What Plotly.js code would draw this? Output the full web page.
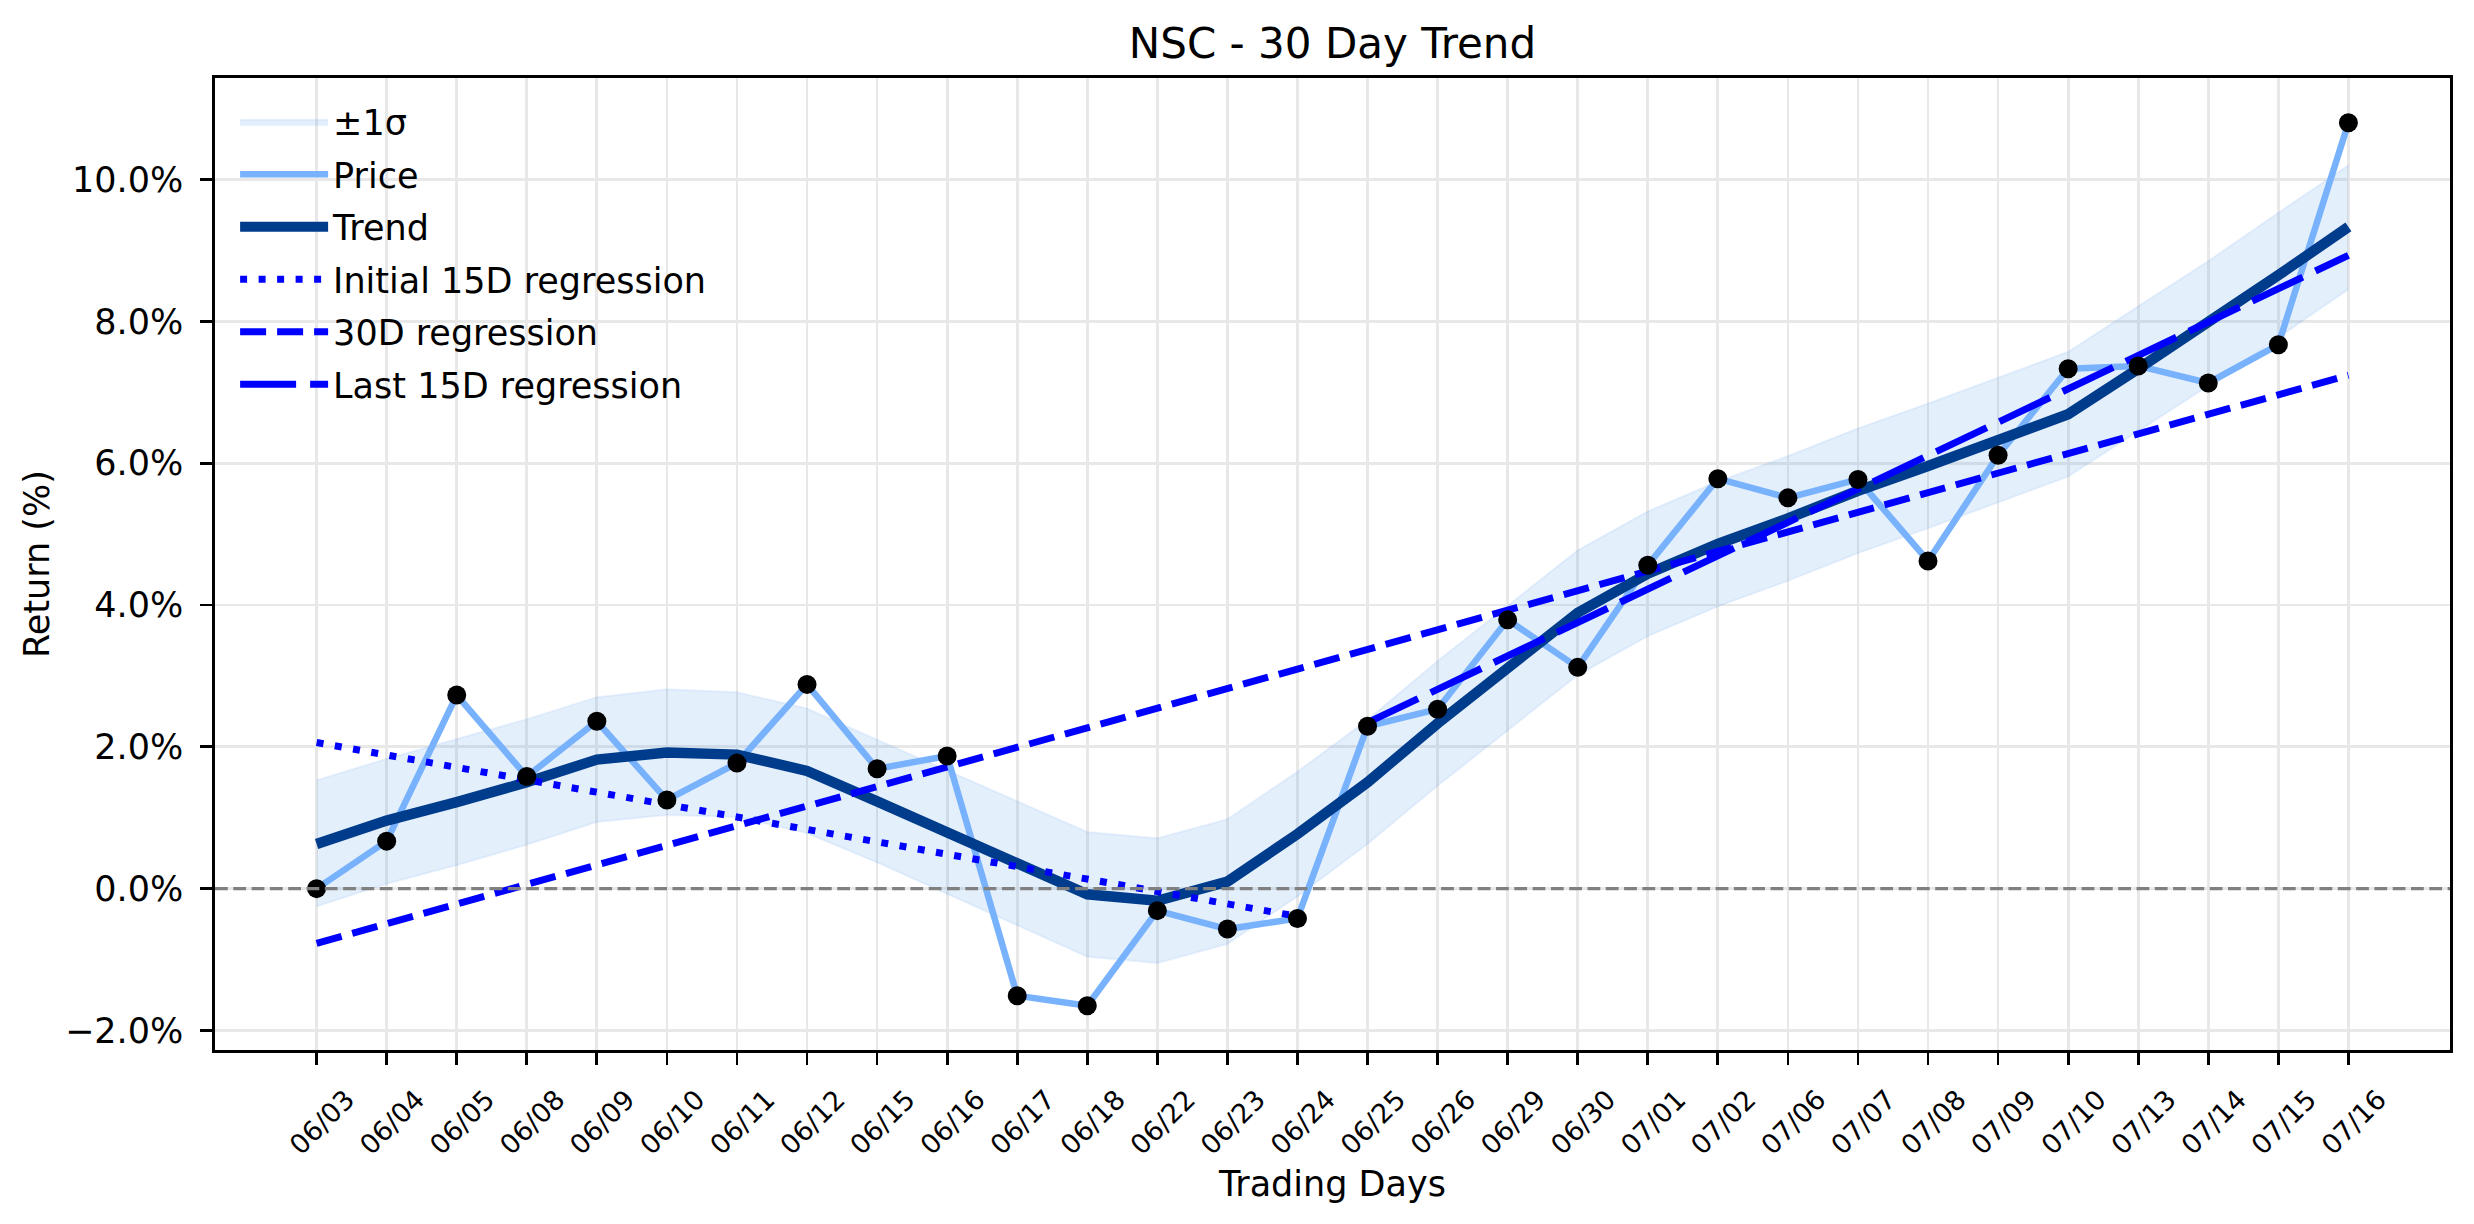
<!DOCTYPE html>
<html>
<head>
<meta charset="utf-8">
<script src="https://cdn.plot.ly/plotly-3.0.1.min.js"></script>
<style>
  html, body { margin: 0; padding: 0; background: #ffffff; }
  #chart { width: 2474px; height: 1224px; }
</style>
</head>
<body>
<div id="chart"></div>
<script>
// ---- data ----
const dates = ['06/03','06/04','06/05','06/08','06/09','06/10','06/11','06/12','06/15','06/16',
               '06/17','06/18','06/22','06/23','06/24','06/25','06/26','06/29','06/30','07/01',
               '07/02','07/06','07/07','07/08','07/09','07/10','07/13','07/14','07/15','07/16'];

const priceReturn = [0.00, 0.67, 2.73, 1.58, 2.36, 1.25, 1.77, 2.88, 1.69, 1.87,
                     -1.51, -1.65, -0.31, -0.57, -0.42, 2.29, 2.53, 3.79, 3.12, 4.56,
                     5.78, 5.51, 5.77, 4.62, 6.11, 7.33, 7.37, 7.13, 7.67, 10.80];

const trendReturn = [0.63, 0.96, 1.22, 1.50, 1.82, 1.92, 1.89, 1.66, 1.23, 0.80,
                     0.36, -0.08, -0.17, 0.10, 0.77, 1.50, 2.33, 3.11, 3.89, 4.44,
                     4.86, 5.22, 5.61, 5.96, 6.32, 6.69, 7.33, 7.97, 8.65, 9.33];

const bandUpper = [1.53, 1.83, 2.11, 2.39, 2.70, 2.81, 2.77, 2.54, 2.10, 1.67,
                   1.23, 0.80, 0.71, 0.98, 1.65, 2.38, 3.21, 3.99, 4.77, 5.32,
                   5.74, 6.10, 6.49, 6.84, 7.20, 7.57, 8.21, 8.85, 9.53, 10.20];

const bandLower = [-0.25, 0.07, 0.33, 0.62, 0.94, 1.04, 1.01, 0.78, 0.37, -0.07,
                   -0.52, -0.96, -1.05, -0.78, -0.11, 0.63, 1.45, 2.23, 3.01, 3.56,
                   3.98, 4.34, 4.73, 5.08, 5.44, 5.81, 6.45, 7.09, 7.77, 8.45];

const initialRegX = ['06/03', '06/24'];
const initialRegY = [2.06, -0.39];
const fullRegX = ['06/03', '07/16'];
const fullRegY = [-0.77, 7.24];
const lastRegX = ['06/25', '07/16'];
const lastRegY = [2.34, 8.93];

const yTickVals = [-2, 0, 2, 4, 6, 8, 10];
const yTickText = ['\u22122.0%', '0.0%', '2.0%', '4.0%', '6.0%', '8.0%', '10.0%'];
const zeroLevel = 0;

const titleText = 'NSC - 30 Day Trend';
const xTitle = 'Trading Days';
const yTitle = 'Return (%)';

// ---- styles ----
const FONT = 'DejaVu Sans, Liberation Sans, sans-serif';
const bandColor = 'rgba(74,150,235,0.15)';
const bandEdge = 'rgba(74,150,235,0.10)';
const priceColor = '#78b2fc';
const trendColor = '#003c8c';
const regColor = '#0000ff';

const traces = [
  { x: dates, y: bandLower, type: 'scatter', mode: 'lines', legendgroup: 'g1',
    line: { color: bandEdge, width: 2 }, showlegend: false, hoverinfo: 'skip' },
  { x: dates, y: bandUpper, type: 'scatter', mode: 'lines', fill: 'tonexty', legendgroup: 'g1',
    fillcolor: bandColor, line: { color: bandEdge, width: 2 }, name: '\u00b11\u03c3' },
  { x: dates, y: priceReturn, type: 'scatter', mode: 'lines', legendgroup: 'g2',
    line: { color: priceColor, width: 6.5 }, name: 'Price' },
  { x: dates, y: trendReturn, type: 'scatter', mode: 'lines', legendgroup: 'g3',
    line: { color: trendColor, width: 10.5 }, name: 'Trend' },
  { x: initialRegX, y: initialRegY, type: 'scatter', mode: 'lines', legendgroup: 'g4',
    line: { color: regColor, width: 7, dash: '7px,11.5px' }, name: 'Initial 15D regression' },
  { x: fullRegX, y: fullRegY, type: 'scatter', mode: 'lines', legendgroup: 'g5',
    line: { color: regColor, width: 7, dash: '26px,11px' }, name: '30D regression' },
  { x: lastRegX, y: lastRegY, type: 'scatter', mode: 'lines', legendgroup: 'g6',
    line: { color: regColor, width: 7, dash: '56px,14px' }, name: 'Last 15D regression' },
  { x: dates, y: priceReturn, type: 'scatter', mode: 'markers', legendgroup: 'g2',
    marker: { color: '#000000', size: 19 }, showlegend: false }
];

const layout = {
  width: 2474, height: 1224,
  paper_bgcolor: '#ffffff', plot_bgcolor: '#ffffff',
  margin: { l: 215, r: 24, t: 78, b: 174, autoexpand: false },
  font: { family: FONT, size: 35, color: '#000000' },
  title: { text: titleText, font: { family: FONT, size: 42, color: '#000000' },
           x: 0.5, xref: 'paper', y: 1 - 43 / 1224, yref: 'container', yanchor: 'middle' },
  showlegend: true,
  legend: { x: 0.009, y: 0.985, xanchor: 'left', yanchor: 'top',
            traceorder: 'grouped',
            bgcolor: 'rgba(0,0,0,0)', borderwidth: 0,
            font: { family: FONT, size: 35, color: '#000000' },
            itemwidth: 88, tracegroupgap: 4 },
  xaxis: {
    type: 'category', range: [-1.45, 30.45], autorange: false,
    showgrid: true, gridcolor: '#e8e8e8', gridwidth: 2.8,
    showline: true, linecolor: '#000000', linewidth: 2.8, mirror: true,
    ticks: 'outside', ticklen: 12, tickwidth: 2.8, tickcolor: '#000000',
    tickangle: -45, tickfont: { family: FONT, size: 27, color: '#000000' },
    ticklabelshift: 30, ticklabelstandoff: 8,
    zeroline: false, automargin: false,
    title: { text: xTitle, font: { family: FONT, size: 35, color: '#000000' }, standoff: 12 }
  },
  yaxis: {
    range: [-2.275, 11.43], autorange: false,
    tickvals: yTickVals, ticktext: yTickText,
    showgrid: true, gridcolor: '#e8e8e8', gridwidth: 2.8,
    showline: true, linecolor: '#000000', linewidth: 2.8, mirror: true,
    ticks: 'outside', ticklen: 12, tickwidth: 2.8, tickcolor: '#000000',
    tickfont: { family: FONT, size: 35, color: '#000000' },
    ticklabelstandoff: 10,
    zeroline: false, automargin: false,
    title: { text: yTitle, font: { family: FONT, size: 35, color: '#000000' }, standoff: 5 }
  },
  shapes: [
    { type: 'line', xref: 'paper', x0: 0, x1: 1, yref: 'y', y0: zeroLevel, y1: zeroLevel,
      line: { color: '#808080', width: 3.4, dash: '12.8px,5.5px' }, layer: 'above' }
  ]
};

Plotly.newPlot('chart', traces, layout, { displayModeBar: false, staticPlot: true });
</script>
</body>
</html>
